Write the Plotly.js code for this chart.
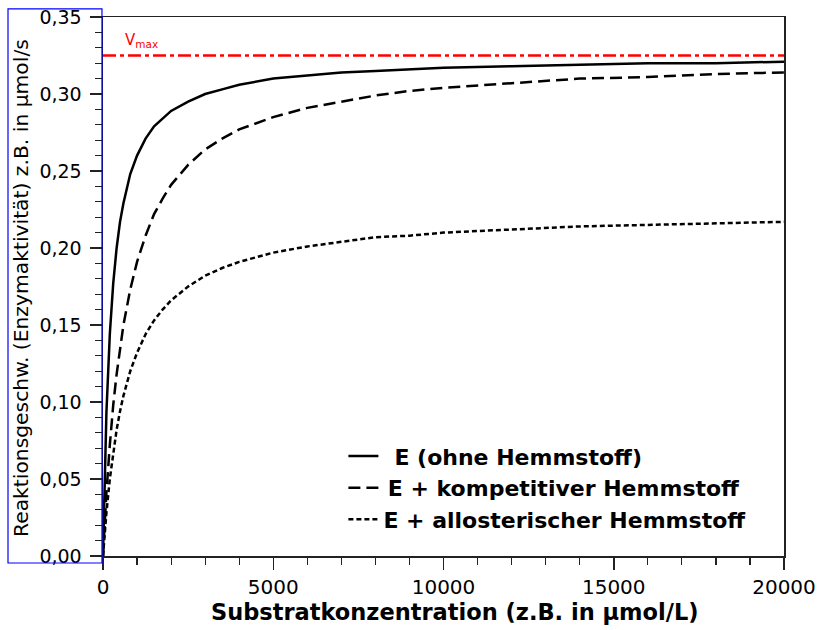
<!DOCTYPE html>
<html>
<head>
<meta charset="utf-8">
<script src="https://cdn.plot.ly/plotly-3.0.1.min.js"></script>
<style>
  html, body { margin: 0; padding: 0; background: #fff; }
  #chart { width: 819px; height: 630px; }
</style>
</head>
<body>
<div id="chart"></div>
<script>
// Substrate concentration (µmol/L)
const substrat = [0, 50, 100, 200, 300, 400, 500, 600, 800, 1000, 1250, 1500, 1750, 2000, 2500, 3000, 3500, 4000, 5000, 6000, 7000, 8000, 9000, 10000, 12000, 14000, 16000, 18000, 20000];
// E (ohne Hemmstoff)
const ohneHemmstoff = [0, 0.054, 0.093, 0.144, 0.177, 0.200, 0.217, 0.229, 0.248, 0.260, 0.271, 0.279, 0.284, 0.289, 0.295, 0.300, 0.303, 0.306, 0.310, 0.312, 0.314, 0.315, 0.316, 0.317, 0.318, 0.319, 0.320, 0.320, 0.321];
// E + kompetitiver Hemmstoff
const kompetitiv = [0, 0.022, 0.041, 0.072, 0.098, 0.118, 0.135, 0.150, 0.173, 0.191, 0.208, 0.222, 0.232, 0.241, 0.254, 0.264, 0.271, 0.277, 0.285, 0.291, 0.295, 0.299, 0.302, 0.304, 0.307, 0.310, 0.311, 0.313, 0.314];
// E + allosterischer Hemmstoff
const allosterisch = [0, 0.015, 0.028, 0.050, 0.067, 0.082, 0.094, 0.104, 0.120, 0.132, 0.144, 0.153, 0.160, 0.166, 0.175, 0.182, 0.187, 0.191, 0.197, 0.201, 0.204, 0.207, 0.208, 0.210, 0.212, 0.214, 0.215, 0.216, 0.217];
// Vmax line
const vmaxX = [0, 20000];
const vmaxY = [0.325, 0.325];

const seriesNames = ['\u2002E (ohne Hemmstoff)', '\u2009E + kompetitiver Hemmstoff', 'E + allosterischer Hemmstoff'];
const xTickVals = [0, 5000, 10000, 15000, 20000];
const yTickVals = [0, 0.05, 0.10, 0.15, 0.20, 0.25, 0.30, 0.35];
const xTitle = '<b>Substratkonzentration (z.B. in µmol/L)</b>';
const yTitle = 'Reaktionsgeschw. (Enzymaktivität) z.B. in µmol/s';

const FONT = 'DejaVu Sans, Verdana, sans-serif';

const traces = [
  { x: vmaxX, y: vmaxY, mode: 'lines', showlegend: false, hoverinfo: 'skip',
    line: { color: '#ff0000', width: 2.5, dash: '13px,4px,4px,4px' } },
  { x: substrat, y: ohneHemmstoff, mode: 'lines', name: seriesNames[0], legendgroup: 'a',
    line: { color: '#000', width: 2.5 } },
  { x: substrat, y: kompetitiv, mode: 'lines', name: seriesNames[1], legendgroup: 'b',
    line: { color: '#000', width: 2.5, dash: '12px,6px' } },
  { x: substrat, y: allosterisch, mode: 'lines', name: seriesNames[2], legendgroup: 'c',
    line: { color: '#000', width: 2.5, dash: '5px,3px' } }
];

const layout = {
  width: 819, height: 630,
  margin: { l: 103, r: 35, t: 17, b: 74 },
  paper_bgcolor: '#fff', plot_bgcolor: '#fff',
  separators: ',.',
  font: { family: FONT, color: '#000' },
  xaxis: {
    range: [0, 20000], tickvals: xTickVals, tickformat: 'd',
    showgrid: false, zeroline: false,
    showline: true, linecolor: '#222', linewidth: 1.5, mirror: true,
    ticks: 'outside', ticklen: 12, tickwidth: 1.5, tickcolor: '#222',
    minor: { dtick: 1000, ticks: 'outside', ticklen: 7, tickwidth: 1.2, tickcolor: '#222', showgrid: false },
    tickfont: { size: 20, family: FONT }
  },
  yaxis: {
    range: [0, 0.35], tickvals: yTickVals, tickformat: '.2f',
    showgrid: false, zeroline: false,
    showline: true, linecolor: '#222', linewidth: 1.5, mirror: true,
    ticks: 'outside', ticklen: 12, tickwidth: 1.5, tickcolor: '#222',
    ticklabelstandoff: 4,
    minor: { dtick: 0.01, ticks: 'outside', ticklen: 7, tickwidth: 1.2, tickcolor: '#222', showgrid: false },
    tickfont: { size: 19, family: FONT }
  },
  legend: {
    x: 0.353, y: 0.224, xanchor: 'left', yanchor: 'top',
    bgcolor: 'rgba(0,0,0,0)', borderwidth: 0,
    traceorder: 'grouped', tracegroupgap: 0,
    font: { size: 22, family: FONT, weight: 'bold' }
  },
  annotations: [
    { x: 600, y: 0.3345, xref: 'x', yref: 'y', xanchor: 'left', yanchor: 'middle',
      text: 'V<sub>max</sub>', showarrow: false, font: { color: '#ff0000', size: 15 } },
    { x: (455 - 103) / 681, y: -(612 - 556) / 539, xref: 'paper', yref: 'paper',
      xanchor: 'center', yanchor: 'middle', text: xTitle, showarrow: false,
      font: { size: 22.5, family: FONT } },
    { x: -(103 - 21) / 681, y: (556 - 288) / 539, xref: 'paper', yref: 'paper',
      xanchor: 'center', yanchor: 'middle', textangle: -90, text: yTitle, showarrow: false,
      font: { size: 20.3, family: FONT } }
  ],
  shapes: [
    { type: 'rect', xref: 'paper', yref: 'paper', x0: -0.1395, x1: -0.0015, y0: -0.013, y1: 1.015,
      line: { color: '#0000ff', width: 1.2 }, fillcolor: 'rgba(0,0,0,0)', layer: 'above' }
  ]
};

Plotly.newPlot('chart', traces, layout, { displayModeBar: false, staticPlot: true });
</script>
</body>
</html>
